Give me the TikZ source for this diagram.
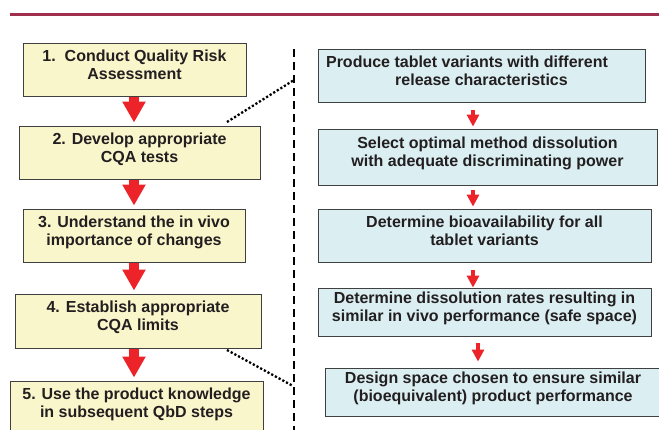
\documentclass[tikz,border=0pt]{standalone}
\usepackage{fontspec}
\setmainfont{Liberation Sans}
\usetikzlibrary{arrows.meta}

\definecolor{boxyellow}{RGB}{250,246,204}
\definecolor{boxcyan}{RGB}{219,239,243}
\definecolor{bigred}{RGB}{236,36,42}
\definecolor{rulered}{RGB}{158,48,78}
\definecolor{txtgray}{RGB}{35,31,32}

\tikzset{
  stepbox/.style={draw=black!75, line width=0.9pt, fill=boxyellow, align=center,
    inner sep=0pt, text=txtgray, font=\fontsize{16}{18}\selectfont\bfseries,
    execute at end node={\rule[-10pt]{0pt}{0pt}}},
  testbox/.style={stepbox, fill=boxcyan},
  bigarrow/.style={draw=bigred, line width=10pt, -{Triangle[width=22pt,length=21pt]},
    shorten <=1pt, shorten >=3pt},
  smallarrow/.style={draw=bigred, line width=4.5pt, -{Triangle[width=12pt,length=12pt]}},
  divider/.style={line width=2pt, dash pattern=on 8pt off 5pt},
  zoomline/.style={line width=2.3pt, dash pattern=on 2.2pt off 2pt}
}

\begin{document}
\begin{tikzpicture}[x=1pt,y=-1pt]
  \useasboundingbox (0,0) rectangle (659,429);

  % Kopflinie
  \draw[rulered, line width=3pt] (10,14) -- (659,14);

  % linke Spalte: QbD-Schritte
  \node[stepbox, minimum width=223pt, minimum height=53pt] (b1) at (134.5,69.5)
    {1.\ \ Conduct Quality Risk\\Assessment};
  \node[stepbox, minimum width=241pt, minimum height=53pt] (b2) at (139.5,152.5)
    {2. Develop appropriate\\CQA tests};
  \node[stepbox, minimum width=222pt, minimum height=53pt] (b3) at (134,235.5)
    {3. Understand the in vivo\\importance of changes};
  \node[stepbox, minimum width=246pt, minimum height=54pt] (b4) at (138,321)
    {4. Establish appropriate\\CQA limits};
  \node[stepbox, minimum width=253pt, minimum height=53pt] (b5) at (136.5,407.5)
    {5. Use the product knowledge\\in subsequent QbD steps};

  \coordinate (ax) at (134,0);
  \foreach \a/\b in {b1/b2,b2/b3,b3/b4,b4/b5}
    \draw[bigarrow] (\a.south -| ax) -- (\b.north -| ax);

  % Trennlinie
  \coordinate (dtop) at (294,49);
  \coordinate (dbot) at (294,432);
  \draw[divider] (dtop) -- (dbot);

  % rechte Spalte: Versuche
  \node[testbox, minimum width=327pt, minimum height=53pt] (r1) at (481.5,75.5)
    {Produce tablet variants with different\rule{29pt}{0pt}\\release characteristics};
  \node[testbox, minimum width=339pt, minimum height=56pt] (r2) at (487.5,157)
    {Select optimal method dissolution\\with adequate discriminating power};
  \node[testbox, minimum width=333pt, minimum height=53pt] (r3) at (484.5,235.5)
    {Determine bioavailability for all\\tablet variants};
  \node[testbox, minimum width=333pt, minimum height=48pt] (r4) at (484.5,312)
    {Determine dissolution rates resulting in\\similar in vivo performance (safe space)};
  \node[testbox, minimum width=336pt, minimum height=48pt] (r5) at (493,392)
    {Design space chosen to ensure similar\\(bioequivalent) product performance};

  \coordinate (rx) at (473,0);
  \coordinate (ry) at (478,0);
  \draw[smallarrow, shorten <=8pt, shorten >=2pt] (r1.south -| rx) -- (r2.north -| rx);
  \draw[smallarrow, shorten <=5pt, shorten >=2pt] (r2.south -| rx) -- (r3.north -| rx);
  \draw[smallarrow, shorten <=8pt] (r3.south -| rx) -- (r4.north -| rx);
  \draw[smallarrow, shorten <=7pt, shorten >=6pt] (r4.south -| ry) -- (r5.north -| ry);

  % Zoom-Linien von Schritt 2 bis 4
  \coordinate (z1) at (227,122);
  \coordinate (z2) at (294,80);
  \coordinate (z3) at (227,350);
  \coordinate (z4) at (293,386);
  \draw[zoomline] (z1) -- (z2);
  \draw[zoomline] (z3) -- (z4);
\end{tikzpicture}
\end{document}
